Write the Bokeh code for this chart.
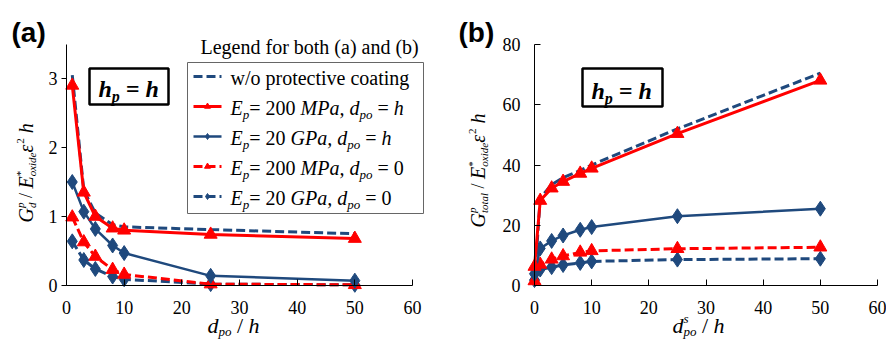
import math
from bokeh.plotting import figure
from bokeh.models import LinearAxis, FixedTicker, Label
from bokeh.layouts import row
from bokeh.embed import file_html
from bokeh.resources import INLINE

# ---------------- data ----------------
x_a = [1, 3, 5, 8, 10, 25, 50]
a_wo = [3.05, 1.38, 1.05, 0.88, 0.85, 0.81, 0.75]
a_red_h = [2.9, 1.35, 1.0, 0.83, 0.8, 0.74, 0.68]
a_blue_h = [1.5, 1.07, 0.82, 0.58, 0.47, 0.14, 0.07]
a_red_0 = [0.99, 0.63, 0.42, 0.23, 0.16, 0.02, 0.01]
a_blue_0 = [0.64, 0.37, 0.24, 0.13, 0.09, 0.02, 0.01]

x_b = [0, 1, 3, 5, 8, 10, 25, 50]
b_wo = [1.0, 29.0, 33.5, 35.8, 38.2, 40.0, 52.0, 70.5]
b_red_h = [6.3, 28.2, 32.3, 34.5, 37.2, 38.9, 50.4, 68.1]
b_blue_h = [3.9, 12.3, 14.8, 16.6, 18.5, 19.4, 23.0, 25.5]
b_red_0 = [1.5, 7.0, 8.7, 9.8, 11.0, 11.5, 12.2, 12.7]
b_blue_0 = [1.8, 5.3, 6.1, 6.8, 7.5, 8.0, 8.6, 8.9]

x_ticks = [0, 10, 20, 30, 40, 50, 60]
ya_ticks = [0, 1, 2, 3]
yb_ticks = [0, 20, 40, 60, 80]

RED = "#FF0000"
BLUE = "#1F497D"
SERIF = "'Liberation Serif', 'Times New Roman', Times, serif"
SANS = "'Liberation Sans', Arial, sans-serif"
NB = "\u00a0"
KB = 0.28  # baseline correction (fraction of font size)

# Times-compatible advance widths (per em)
W_REG = {' ': .25, NB: .25, '(': .333, ')': .333, ',': .25, '/': .278, '=': .564, '*': .5,
         'E': .611, 'G': .722, 'L': .611, 'M': .889, 'P': .556,
         'a': .444, 'b': .5, 'c': .444, 'd': .5, 'e': .444, 'f': .333, 'g': .5, 'h': .5,
         'i': .278, 'l': .278, 'n': .5, 'o': .5, 'p': .5, 'r': .333, 's': .389, 't': .278,
         'v': .5, 'w': .722, 'x': .5}
W_IT = {' ': .25, NB: .25, ',': .25, '/': .278, '=': .675, '*': .5, 'E': .611, 'G': .722,
        'M': .833, 'P': .611, 'a': .5, 'd': .5, 'e': .444, 'h': .5, 'i': .278, 'l': .278,
        'o': .5, 'p': .5, 's': .389, 't': .278, 'x': .444, 'ε': .44}
W_BI = {' ': .25, NB: .25, '=': .57, 'h': .556, 'p': .5}
W_B = {'(': .333, ')': .333, 'a': .556, 'b': .611}


def tw(s, size, style):
    table = {'normal': W_REG, 'italic': W_IT, 'bold italic': W_BI, 'bold': W_B}[style]
    return sum(table.get(c, 0.5) for c in s) * size


class Panel:
    def __init__(self, x0px, ppx, y0px, ppy, W=443, H=341):
        self.x0px, self.ppx, self.y0px, self.ppy = x0px, ppx, y0px, ppy
        self.fig = figure(width=W, height=H, output_backend="svg", toolbar_location=None,
                          x_range=(self.X(0), self.X(W)), y_range=(self.Y(H), self.Y(0)),
                          x_axis_location=None, y_axis_location=None, min_border=0,
                          title=None)
        self.fig.outline_line_color = None
        self.fig.grid.visible = False
        self.fig.background_fill_color = "white"
        self.fig.border_fill_color = "white"

    def X(self, px):
        return (px - self.x0px) / self.ppx

    def Y(self, py):
        return (self.y0px - py) / self.ppy


def runs(P, px, py, pieces, angle=0.0, font=SERIF, color="black"):
    pos = px if angle == 0 else py
    for piece in pieces:
        t, size, style, shift = piece[:4]
        t = t.replace(" ", NB)
        adv = piece[4] if len(piece) > 4 else None
        if angle == 0:
            x, y = pos, py + shift - KB * size
        else:
            x, y = px + shift - KB * size, pos
        P.fig.add_layout(Label(x=P.X(x), y=P.Y(y), text=t, angle=angle,
                               text_font=font, text_font_size=f"{size}px",
                               text_font_style=style, text_color=color,
                               text_baseline="alphabetic", text_align="left"))
        w = tw(t, size, style) if adv is None else adv
        if angle == 0:
            pos += w
        else:
            pos -= w


def axes(P, ymax, yticks, y_out, y_in, y_standoff):
    f = P.fig
    xa = LinearAxis(fixed_location=0, bounds=(0, 60), ticker=FixedTicker(ticks=x_ticks))
    ya = LinearAxis(fixed_location=0, bounds=(0, ymax), ticker=FixedTicker(ticks=yticks))
    for ax in (xa, ya):
        ax.axis_line_color = "black"
        ax.axis_line_width = 1
        ax.major_tick_line_color = "black"
        ax.minor_tick_line_color = None
        ax.major_label_text_font = SERIF
        ax.major_label_text_font_size = "18px"
        ax.major_label_text_color = "black"
    xa.major_tick_in = 6
    xa.major_tick_out = 0
    xa.major_label_standoff = 15
    ya.major_tick_in = y_in
    ya.major_tick_out = y_out
    ya.major_label_standoff = y_standoff
    f.add_layout(xa, "below")
    f.add_layout(ya, "left")


def series(f, x, y, color, dash, width, marker, msize):
    f.line(x, y, line_color=color, line_width=width, line_dash=dash)
    if marker:
        f.scatter(x, y, marker=marker, size=msize, fill_color=color, line_color=color)


def hp_box(P, x1, y1, x2, y2, tx, ty):
    P.fig.quad(left=[P.X(x1)], right=[P.X(x2)], top=[P.Y(y1)], bottom=[P.Y(y2)],
               fill_color="white", line_color="black", line_width=2.5)
    runs(P, tx, ty, [("h", 24, "bold italic", 0), ("p", 16, "bold italic", 5),
                     (" = ", 24, "bold italic", 0), ("h", 24, "bold italic", 0)])


# ---------------- panel (a) ----------------
A = Panel(66, (412 - 66) / 60, 285, (285 - 78) / 3)
fa = A.fig
axes(A, 3.5, ya_ticks, 5, 0, 4)
series(fa, x_a, a_wo, BLUE, "9 4", 3, None, 0)
series(fa, x_a, a_blue_0, BLUE, "9 4", 3, "diamond", 15)
series(fa, x_a, a_red_0, RED, "9 4", 3, "triangle", 13)
series(fa, x_a, a_blue_h, BLUE, "solid", 2.5, "diamond", 15)
series(fa, x_a, a_red_h, RED, "solid", 3, "triangle", 13)

hp_box(A, 89, 68, 168, 104, 98, 95)

# legend (shared)
fa.quad(left=[A.X(187)], right=[A.X(423)], top=[A.Y(62)], bottom=[A.Y(213)],
        fill_color="white", line_color="#666666", line_width=1)
runs(A, 200, 52, [("Legend for both (a) and (b)", 20, "normal", 0)])

leg_styles = [
    (BLUE, "9 4", 3, None),
    (RED, "solid", 3, "triangle"),
    (BLUE, "solid", 2.5, "diamond"),
    (RED, "9 4", 3, "triangle"),
    (BLUE, "9 4", 3, "diamond"),
]
leg_texts = [
    [("w/o protective coating", 20, "normal", 0)],
    [("E", 20, "italic", 0), ("p", 13, "italic", 5), ("= 200 ", 20, "normal", 0),
     ("MPa", 20, "italic", 0), (", ", 20, "italic", 0), ("d", 20, "italic", 0),
     ("po", 13, "italic", 5), (" = ", 20, "normal", 0), ("h", 20, "italic", 0)],
    [("E", 20, "italic", 0), ("p", 13, "italic", 5), ("= 20 ", 20, "normal", 0),
     ("GPa", 20, "italic", 0), (", ", 20, "italic", 0), ("d", 20, "italic", 0),
     ("po", 13, "italic", 5), (" = ", 20, "normal", 0), ("h", 20, "italic", 0)],
    [("E", 20, "italic", 0), ("p", 13, "italic", 5), ("= 200 ", 20, "normal", 0),
     ("MPa", 20, "italic", 0), (", ", 20, "italic", 0), ("d", 20, "italic", 0),
     ("po", 13, "italic", 5), (" = ", 20, "normal", 0), ("0", 20, "normal", 0)],
    [("E", 20, "italic", 0), ("p", 13, "italic", 5), ("= 20 ", 20, "normal", 0),
     ("GPa", 20, "italic", 0), (", ", 20, "italic", 0), ("d", 20, "italic", 0),
     ("po", 13, "italic", 5), (" = ", 20, "normal", 0), ("0", 20, "normal", 0)],
]
for i, ((c, d, w, m), pieces) in enumerate(zip(leg_styles, leg_texts)):
    ly = 76 + 30 * i
    fa.line([A.X(193), A.X(221)], [A.Y(ly), A.Y(ly)], line_color=c, line_width=w, line_dash=d)
    if m:
        fa.scatter([A.X(207)], [A.Y(ly)], marker=m, size=6, fill_color=c, line_color=c)
    runs(A, 230, ly + 7, pieces)

runs(A, 11, 40, [("(a)", 28, "bold", 0)], font=SANS)

# y label (a)
runs(A, 31, 222, [("G", 20, "italic", 0), ("p", 11, "italic", -8, 0), ("d", 11, "italic", 4),
                  (" / ", 18, "normal", 0), ("E", 20, "italic", 0), ("*", 11, "normal", -8, 0),
                  ("oxide", 11, "italic", 4), ("ε", 20, "italic", 0), ("2", 11, "normal", -8),
                  (" h", 20, "italic", 0)], angle=math.pi / 2)
# x label (a)
runs(A, 207, 331, [("d", 22, "italic", 0), ("po", 13, "italic", 4), (" / ", 22, "normal", 0),
                   ("h", 22, "italic", 0)])

# ---------------- panel (b) ----------------
B = Panel(91, (434 - 91) / 60, 285, (285 - 44) / 80)
fb = B.fig
axes(B, 80, yb_ticks, 0, 6, 14)
series(fb, x_b, b_wo, BLUE, "9 4", 3, None, 0)
series(fb, x_b, b_blue_0, BLUE, "9 4", 3, "diamond", 15)
series(fb, x_b, b_red_0, RED, "9 4", 3, "triangle", 13)
series(fb, x_b, b_blue_h, BLUE, "solid", 2.5, "diamond", 15)
series(fb, x_b, b_red_h, RED, "solid", 3, "triangle", 13)

hp_box(B, 139, 68, 219, 106, 148, 97)
runs(B, 15, 40, [("(b)", 28, "bold", 0)], font=SANS)

runs(B, 40, 227, [("G", 20, "italic", 0), ("p", 11, "italic", -8, 0), ("total", 11, "italic", 4),
                  (" / ", 18, "normal", 0), ("E", 20, "italic", 0), ("*", 11, "normal", -8, 0),
                  ("oxide", 11, "italic", 4), ("ε", 20, "italic", 0), ("2", 11, "normal", -8),
                  (" h", 20, "italic", 0)], angle=math.pi / 2)
runs(B, 229, 331, [("d", 22, "italic", 0), ("s", 13, "italic", -9, 0), ("po", 13, "italic", 4),
                   (" / ", 22, "normal", 0), ("h", 22, "italic", 0)])

layout = row(fa, fb)
open("out.html", "w").write(file_html(layout, INLINE))
